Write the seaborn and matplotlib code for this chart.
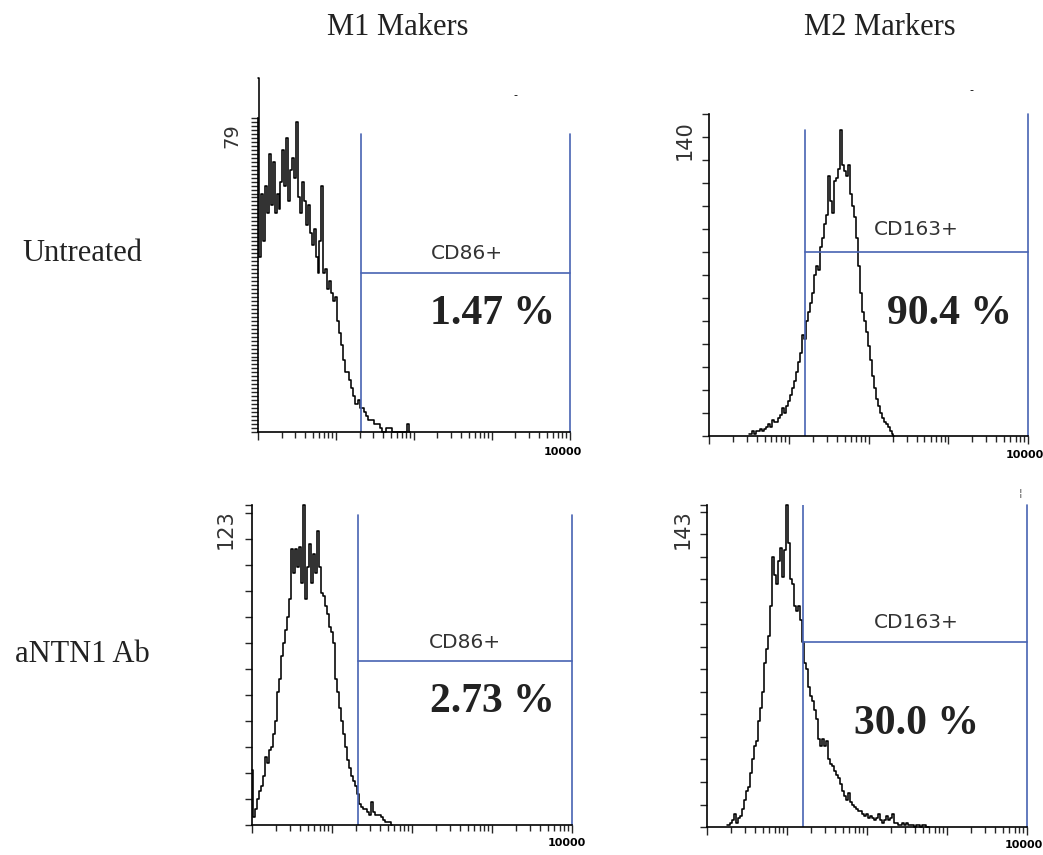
"""
Flow cytometry histograms: M1 (CD86) and M2 (CD163) markers,
untreated vs aNTN1 Ab treated macrophages.
"""

import numpy as np
import pandas as pd
import seaborn as sns
import matplotlib.pyplot as plt
from matplotlib.ticker import LogLocator, NullFormatter, FixedLocator

# counts per channel, 40 channels per decade on a 1..10^4 log scale
CHANNELS_PER_DECADE = 40

untreated_cd86 = [
    89, 44, 60, 48, 62, 55, 70, 57, 68, 55, 60, 56, 63, 71, 62, 74, 58, 66, 69, 64,
    78, 59, 55, 63, 58, 52, 57, 50, 47, 51, 44, 40, 48, 62, 40, 41, 36, 38, 35, 33,
    34, 28, 25, 22, 18, 15, 15, 13, 11, 9, 7, 7, 8, 6, 6, 5, 4, 3, 3, 3,
    2, 2, 2, 1, 0, 0, 1, 1, 1, 0, 0, 0, 0, 0, 0, 0, 0, 2, 0,
]
untreated_cd163 = [
    1, 1, 2, 1, 2, 2, 3, 2, 3, 4, 5, 4, 7, 6, 6, 8, 9, 12, 10, 13,
    15, 18, 21, 24, 28, 32, 36, 44, 42, 50, 54, 58, 62, 70, 74, 72, 82, 86, 92, 96,
    113, 102, 97, 111, 112, 116, 133, 118, 115, 113, 118, 105, 100, 95, 86, 74, 62, 54, 50, 45,
    39, 33, 26, 21, 16, 13, 10, 8, 6, 5, 4, 2, 1, 0,
]
antn1_cd86 = [
    21, 3, 6, 10, 13, 15, 19, 26, 24, 29, 30, 35, 40, 51, 56, 65, 70, 75, 80, 87,
    106, 97, 106, 99, 107, 93, 123, 87, 99, 108, 93, 104, 97, 113, 99, 89, 88, 84, 81, 76,
    74, 70, 56, 51, 45, 40, 35, 30, 25, 22, 19, 17, 15, 12, 8, 7, 6, 6, 5, 4,
    9, 5, 4, 4, 4, 3, 2, 1, 1, 1, 0,
]
antn1_cd163 = [
    1, 1, 2, 3, 6, 2, 4, 5, 8, 12, 16, 18, 24, 30, 36, 38, 47, 53, 60, 73,
    79, 85, 98, 120, 112, 108, 118, 124, 111, 123, 143, 126, 110, 108, 98, 96, 98, 92, 82, 73,
    70, 62, 58, 56, 52, 48, 39, 36, 39, 36, 38, 30, 28, 27, 25, 23, 22, 19, 16, 14,
    12, 15, 11, 10, 9, 8, 7, 7, 6, 5, 6, 4, 5, 4, 3, 4, 6, 3, 2, 3,
    5, 3, 4, 6, 2, 2, 1, 1, 2, 1, 2, 1, 1, 1, 0, 1, 1, 0, 1, 1, 0, 0,
]

panel_counts = [untreated_cd86, untreated_cd163, antn1_cd86, antn1_cd163]
first_channel = [0, 20, 0, 10]
y_max = [79, 140, 123, 143]
y_tick_step = [1, 10, 10, 10]

gate_start = [21, 16, 21, 16]
gate_level = [40, 80, 63, 82]
gate_top_left = [75, 133, 119, 143]
gate_top_right = [75, 140, 119, 143]
gate_names = ["CD86+", "CD163+", "CD86+", "CD163+"]
percent_labels = ["1.47 %", "90.4 %", "2.73 %", "30.0 %"]

col_titles = ["M1 Makers", "M2 Markers"]
row_titles = ["Untreated", "aNTN1 Ab"]

# layout (figure fractions) and label placement (axes fractions)
AX_RECTS = [
    [0.2474, 0.4947, 0.2991, 0.3673],
    [0.6798, 0.4901, 0.3059, 0.3766],
    [0.2416, 0.0351, 0.3068, 0.3743],
    [0.6779, 0.0327, 0.3068, 0.3766],
]
GATE_LABEL_POS = [(0.670, 0.570), (0.649, 0.640), (0.666, 0.569), (0.653, 0.634)]
PCT_POS = [(0.753, 0.376), (0.755, 0.379), (0.750, 0.384), (0.653, 0.320)]
YMAX_POS = [(-0.083, 0.943), (-0.075, 0.919), (-0.081, 0.925), (-0.075, 0.925)]
XMAX_POS = [(0.978, -0.064), (0.991, -0.059), (0.984, -0.056), (0.990, -0.056)]

GATE_COLOR = "#4863b3"
TEXT_COLOR = "#222222"


def draw_panel(ax, i):
    counts = panel_counts[i]
    channels = np.arange(first_channel[i], first_channel[i] + len(counts))
    df = pd.DataFrame({
        "intensity": 10 ** (channels / CHANNELS_PER_DECADE),
        "count": counts,
    })

    ax.set_xscale("log")
    sns.lineplot(data=df, x="intensity", y="count", ax=ax, color="black",
                 linewidth=1.15, drawstyle="steps-mid", estimator=None, sort=False)
    ax.lines[-1].set_clip_on(False)

    ax.set_xlim(1, 10000)
    ax.set_ylim(0, y_max[i])
    ax.set_xlabel("")
    ax.set_ylabel("")

    # gate
    ax.plot([gate_start[i], gate_start[i]], [0, gate_top_left[i]], color=GATE_COLOR, lw=1.2)
    ax.plot([10000, 10000], [0, gate_top_right[i]], color=GATE_COLOR, lw=1.2, clip_on=False)
    ax.plot([gate_start[i], 10000], [gate_level[i], gate_level[i]], color=GATE_COLOR, lw=1.2,
            clip_on=False)

    # axes styling
    sns.despine(ax=ax)
    for side in ["left", "bottom"]:
        ax.spines[side].set_linewidth(1.2)
        ax.spines[side].set_color("black")
    ax.xaxis.set_major_locator(LogLocator(base=10, numticks=10))
    ax.xaxis.set_minor_locator(LogLocator(base=10, subs=np.arange(2, 10), numticks=10))
    ax.xaxis.set_minor_formatter(NullFormatter())
    yt = list(range(0, y_max[i] + 1, y_tick_step[i]))
    if yt[-1] != y_max[i]:
        yt.append(y_max[i])
    ax.yaxis.set_major_locator(FixedLocator(yt))
    ax.tick_params(axis="x", which="major", direction="out", length=5.5, width=1.0,
                   labelbottom=False)
    ax.tick_params(axis="x", which="minor", direction="out", length=4, width=1.0)
    ax.tick_params(axis="y", direction="out", length=5, width=1.0, labelleft=False)

    # labels
    gx, gy = GATE_LABEL_POS[i]
    ax.text(gx, gy, gate_names[i], transform=ax.transAxes, ha="center", va="center",
            fontsize=14.5, color="#333333")
    px, py = PCT_POS[i]
    ax.text(px, py, percent_labels[i], transform=ax.transAxes, ha="center", va="center",
            fontsize=30, fontweight="bold", family="Liberation Serif", color=TEXT_COLOR)
    yx, yy = YMAX_POS[i]
    ax.text(yx, yy, str(y_max[i]), transform=ax.transAxes, ha="center", va="center",
            rotation=90, fontsize=14 if i == 0 else 15, color="#333333")
    xx, xy = XMAX_POS[i]
    ax.text(xx, xy, "10000", transform=ax.transAxes, ha="center", va="center",
            fontsize=8, fontweight="bold", color="black")


def main():
    sns.set_style("ticks")
    plt.rcParams["font.family"] = ["DejaVu Sans"]

    fig = plt.figure(figsize=(10.43, 8.55), dpi=100)
    axes = [fig.add_axes(rect) for rect in AX_RECTS]
    for i, ax in enumerate(axes):
        draw_panel(ax, i)

    # stray marks from the original export
    axes[0].text(0.824, 1.073, "-", transform=axes[0].transAxes, ha="center", va="center",
                 fontsize=8, color="black")
    axes[1].text(0.824, 1.075, "-", transform=axes[1].transAxes, ha="center", va="center",
                 fontsize=8, color="black")
    axes[3].text(0.978, 1.037, "\u00a6", transform=axes[3].transAxes, ha="center",
                 va="center", fontsize=8, color="#444444")

    for x, title in zip([0.381, 0.844], col_titles):
        fig.text(x, 0.968, title, ha="center", va="center", fontsize=22,
                 family="Liberation Serif", color=TEXT_COLOR)
    for y, label in zip([0.703, 0.234], row_titles):
        fig.text(0.079, y, label, ha="center", va="center", fontsize=22,
                 family="Liberation Serif", color=TEXT_COLOR)

    fig.savefig("out.png", dpi=100)


if __name__ == "__main__":
    main()
